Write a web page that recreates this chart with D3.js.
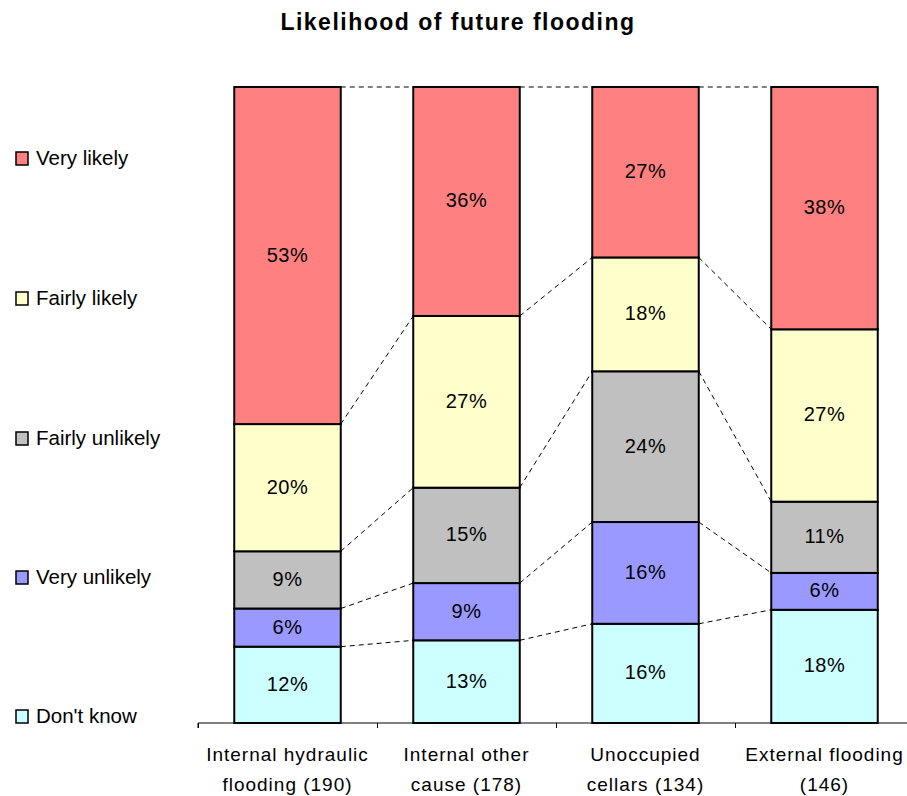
<!DOCTYPE html>
<html><head><meta charset="utf-8">
<script src="https://cdn.jsdelivr.net/npm/d3@7"></script>
<style>body{margin:0;background:#fff}svg{display:block}text{font-family:"Liberation Sans",Arial,sans-serif;fill:#000}</style>
</head><body><svg id="c" width="907" height="796"></svg>
<script>
const title = "Likelihood of future flooding";
const categories = [["Internal hydraulic","flooding (190)"],["Internal other","cause (178)"],["Unoccupied","cellars (134)"],["External flooding","(146)"]];
const seriesNames = ["Don't know","Very unlikely","Fairly unlikely","Fairly likely","Very likely"];
const seriesColors = ["#CCFFFF","#9999FF","#C0C0C0","#FFFFCC","#FF8080"];
const dontKnow = [12, 13, 15.6, 17.8];
const veryUnlikely = [6, 9, 16.0, 5.8];
const fairlyUnlikely = [9, 15, 23.7, 11.2];
const fairlyLikely = [20, 27, 17.9, 27.1];
const veryLikely = [53, 36, 26.8, 38.1];
const seriesValues = [dontKnow, veryUnlikely, fairlyUnlikely, fairlyLikely, veryLikely];

const svg = d3.select("#c");
const x0 = 198, yBottom = 723, yTop = 87, band = 179;
const x = d3.scaleBand().domain(d3.range(categories.length)).range([x0, x0 + band*categories.length]).paddingInner(0.405).paddingOuter(0.2025);
const y = d3.scaleLinear().domain([0,100]).range([yBottom, yTop]);

const rows = categories.map((c,i)=>{const o={i}; seriesNames.forEach((s,j)=>o[s]=seriesValues[j][i]); return o;});
const stack = d3.stack().keys(seriesNames)(rows);

// series lines (dashed)
stack.forEach(layer=>{
  for(let i=0;i<layer.length-1;i++){
    svg.append("line")
      .attr("x1", x(i)+x.bandwidth()).attr("y1", y(layer[i][1]))
      .attr("x2", x(i+1)).attr("y2", y(layer[i+1][1]))
      .attr("stroke","#000").attr("stroke-width",1).attr("stroke-dasharray","5,4");
  }
});

// bars
stack.forEach((layer,j)=>{
  const g = svg.append("g");
  g.selectAll("rect").data(layer).join("rect")
    .attr("x",(d,i)=>x(i)).attr("width",x.bandwidth())
    .attr("y",d=>y(d[1])).attr("height",d=>y(d[0])-y(d[1]))
    .attr("fill",seriesColors[j]).attr("stroke","#000").attr("stroke-width",2);
  g.selectAll("text").data(layer).join("text")
    .attr("x",(d,i)=>x(i)+x.bandwidth()/2)
    .attr("y",d=>(y(d[0])+y(d[1]))/2 - 1)
    .attr("text-anchor","middle").attr("dominant-baseline","central")
    .attr("font-size",20).attr("letter-spacing",0.5)
    .text(d=>Math.round(d[1]-d[0])+"%");
});

// axis
const ax = d3.axisBottom(d3.scaleLinear().domain([0,4]).range([x0, x0+band*4])).tickValues([0,1,2,3,4]).tickSize(5).tickFormat("");
const axg = svg.append("g").attr("transform",`translate(0,${yBottom})`).call(ax);
axg.select(".domain").attr("stroke","#000").attr("d",`M${x0},5V0H907`);
axg.selectAll(".tick line").attr("stroke","#000");

// category labels
categories.forEach((lines,i)=>{
  const cx = x(i)+x.bandwidth()/2;
  const t = svg.append("text").attr("x",cx).attr("y",761).attr("text-anchor","middle").attr("font-size",19).attr("letter-spacing",1);
  lines.forEach((l,k)=>t.append("tspan").attr("x",cx).attr("dy",k===0?0:30).text(l));
});

// legend
const legY = [716,577,438,298,158];
seriesNames.forEach((s,j)=>{
  svg.append("rect").attr("x",16).attr("y",legY[j]-6).attr("width",12).attr("height",13)
    .attr("fill",seriesColors[j]).attr("stroke","#000").attr("stroke-width",1.5);
  svg.append("text").attr("x",36).attr("y",legY[j]+7).attr("font-size",20.5).text(s);
});

// title
svg.append("text").attr("x",458).attr("y",30).attr("text-anchor","middle")
  .attr("font-size",23).attr("font-weight","bold").attr("letter-spacing",1.5).text(title);
</script></body></html>
